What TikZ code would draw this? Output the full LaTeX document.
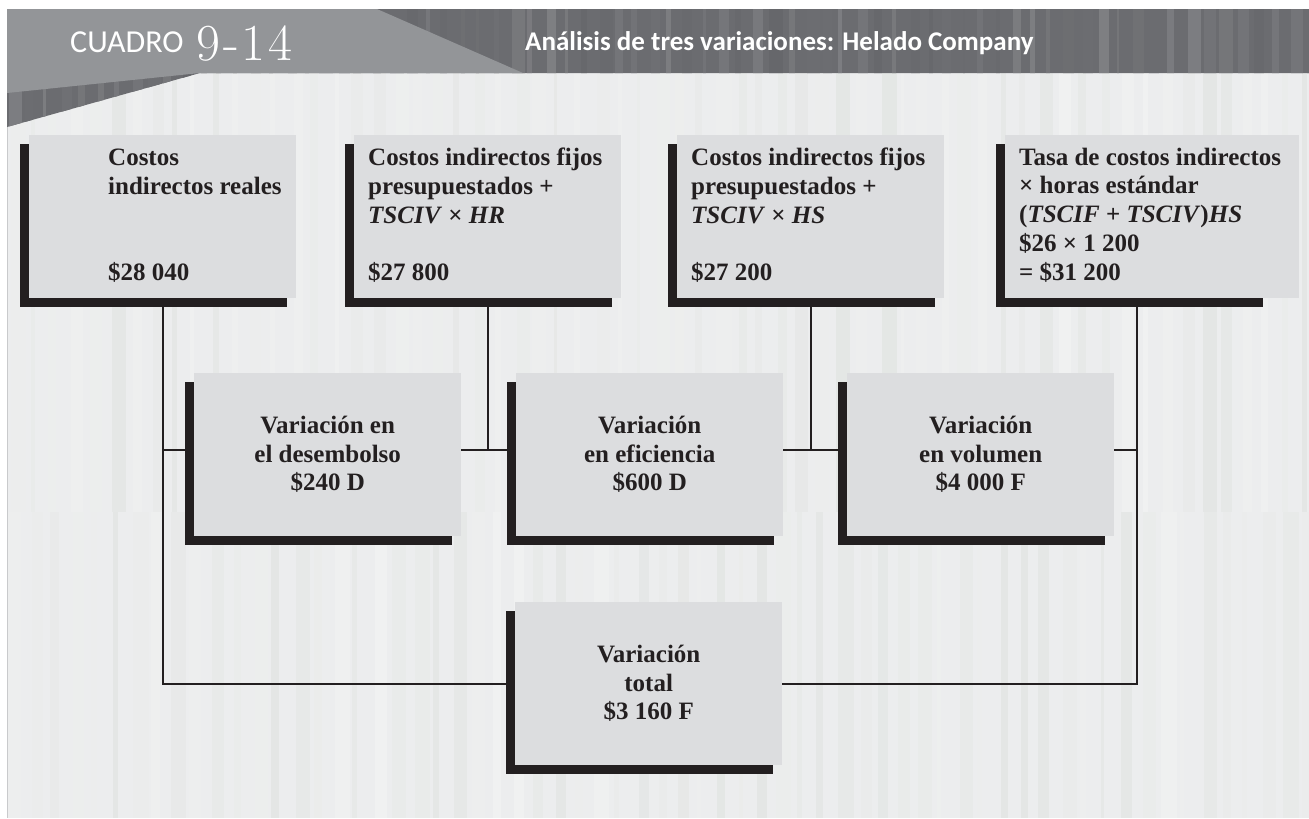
\documentclass[tikz,border=0pt]{standalone}
\usepackage{fontspec}
\setmainfont{Liberation Serif}
\newfontfamily\hdrfont{Carlito}
\newcommand\lmnum{\fontfamily{lmr}\selectfont}
\usetikzlibrary{calc}
\definecolor{ink}{HTML}{231F20}
\definecolor{boxfill}{HTML}{DCDDDF}
\definecolor{bodybg}{HTML}{ECEDEE}
\definecolor{stripeD}{HTML}{E4E6E5}
\definecolor{stripeL}{HTML}{F0F1F1}
\definecolor{hpanel}{HTML}{939598}
\definecolor{hdark}{HTML}{6B6C70}
\definecolor{hstripeL}{HTML}{8B8C8F}
\definecolor{hstripeD}{HTML}{65666A}
\definecolor{framec}{HTML}{C9CACC}
\pgfdeclarelayer{back}
\pgfdeclarelayer{shad}
\pgfsetlayers{back,shad,main}
\tikzset{
  box/.style={fill=boxfill, inner sep=0pt, minimum width=267pt, minimum height=163pt, anchor=north west},
  txt/.style={text=ink, inner sep=0pt, font=\bfseries\fontsize{25}{28.5}\selectfont},
  link/.style={draw=ink, line width=2pt},
  hdr/.style={text=white, inner sep=0pt, anchor=base west},
}
\begin{document}
\begin{tikzpicture}[x=1pt,y=-1pt]
\useasboundingbox (0,0) rectangle (1309,819);
\begin{pgfonlayer}{back}
  \fill[white] (0,0) rectangle (1309,819);
  \fill[bodybg] (7,73) rectangle (1309,818);
  \pgfmathsetseed{11}
  \foreach \i in {0,...,64}{
    \pgfmathsetmacro{\sx}{7+\i*20.2+6*rnd}
    \pgfmathsetmacro{\ex}{min(\sx+3+13*rnd,1309)}
    \pgfmathtruncatemacro{\pc}{100*rnd}
    \fill[stripeD!\pc!stripeL] (\sx,73) rectangle (\ex,512);
  }
  \pgfmathsetseed{29}
  \foreach \i in {0,...,64}{
    \pgfmathsetmacro{\sx}{7+\i*20.2+6*rnd}
    \pgfmathsetmacro{\ex}{min(\sx+3+13*rnd,1309)}
    \pgfmathtruncatemacro{\pc}{100*rnd}
    \fill[stripeD!\pc!stripeL] (\sx,512) rectangle (\ex,818);
  }
  \draw[framec, line width=1pt] (7,73) -- (7,818);
  % header
  \fill[hdark] (7,9) -- (1309,9) -- (1309,73) -- (200,73) -- (7,127) -- cycle;
  \begin{scope}
    \clip (7,9) -- (1309,9) -- (1309,73) -- (200,73) -- (7,127) -- cycle;
    \pgfmathsetseed{5}
    \foreach \i in {0,...,75}{
      \pgfmathsetmacro{\sx}{7+\i*17.3+5*rnd}
      \pgfmathsetmacro{\ex}{\sx+2+12*rnd}
      \pgfmathtruncatemacro{\pc}{35+65*rnd}
      \fill[hstripeD!\pc!hstripeL] (\sx,9) rectangle (\ex,127);
    }
  \end{scope}
  \fill[hpanel] (7,9) -- (377,9) -- (523,73) -- (200,73) -- (7,93) -- cycle;
\end{pgfonlayer}

\node[hdr, font=\hdrfont\fontsize{32}{34}\selectfont] (cuadro) at (70,52) {CUADRO};
\node[hdr, font=\lmnum\fontsize{52}{54}\selectfont] (num) at (196,60) {9\kern3pt-\kern3pt1\kern3pt4};
\node[hdr, font=\hdrfont\bfseries\fontsize{27}{30}\selectfont] (title) at (525,50) {Análisis de tres variaciones: Helado Company};

% top boxes
\node[box] (b1) at (29,135) {};
\node[box] (b2) at (354,135) {};
\node[box] (b3) at (677,135) {};
\node[box, minimum width=294pt] (b4) at (1005,135) {};

\node[txt, anchor=base west] (b1t) at (108,165) {\parbox[t]{185pt}{\raggedright\baselineskip=29pt Costos\\indirectos reales}};
\node[txt, anchor=base west] (b1a) at (108,280) {\$28 040};
\node[txt, anchor=base west] (b2t) at (368,165) {\parbox[t]{250pt}{\raggedright\baselineskip=29pt Costos indirectos fijos\\presupuestados +\\\textit{TSCIV} × \textit{HR}}};
\node[txt, anchor=base west] (b2a) at (368,280) {\$27 800};
\node[txt, anchor=base west] (b3t) at (691,165) {\parbox[t]{250pt}{\raggedright\baselineskip=29pt Costos indirectos fijos\\presupuestados +\\\textit{TSCIV} × \textit{HS}}};
\node[txt, anchor=base west] (b3a) at (691,280) {\$27 200};
\node[txt, anchor=base west] (b4t) at (1019,165) {\parbox[t]{285pt}{\raggedright\baselineskip=28.8pt Tasa de costos indirectos\\× horas estándar\\(\textit{TSCIF} + \textit{TSCIV})\textit{HS}\\\$26 × 1 200\\= \$31 200}};

% middle boxes
\node[box, txt, align=center] (d) at (194,373) {Variación en\\el desembolso\\\$240 D};
\node[box, txt, align=center] (e) at (516,373) {Variación\\en eficiencia\\\$600 D};
\node[box, txt, align=center] (v) at (847,373) {Variación\\en volumen\\\$4 000 F};
% total
\node[box, txt, align=center] (t) at (515,602) {Variación\\total\\\$3 160 F};

% shadows
\begin{pgfonlayer}{shad}
  \foreach \n in {b1,b2,b3,d,e,v,t}{
    \fill[ink] ([xshift=-9pt,yshift=-9pt]\n.south west) rectangle ([xshift=-9pt,yshift=-9pt]\n.north east);
  }
  \fill[ink] ([xshift=-9pt,yshift=-9pt]b4.south west) rectangle ([xshift=-36pt,yshift=-9pt]b4.north east);
\end{pgfonlayer}

% connectors
\coordinate (b4s) at ([xshift=-15pt]b4.south);
\draw[link] (b1.south) -- (b1.south |- t.west) -- (t.west);
\draw[link] ($(b1.south |- d.west)+(0,-4.5)$) -- ($(d.west)+(0,-4.5)$);
\draw[link] ($(d.east)+(0,-4.5)$) -- ($(e.west)+(0,-4.5)$);
\draw[link] (b2.south) -- ($(b2.south |- d.east)+(0,-4.5)$);
\draw[link] ($(e.east)+(0,-4.5)$) -- ($(v.west)+(0,-4.5)$);
\draw[link] (b3.south) -- ($(b3.south |- e.east)+(0,-4.5)$);
\draw[link] ($(v.east)+(0,-4.5)$) -- ($(b4s |- v.east)+(0,-4.5)$);
\draw[link] (b4s) -- (b4s |- t.east) -- (t.east);
\end{tikzpicture}
\end{document}
